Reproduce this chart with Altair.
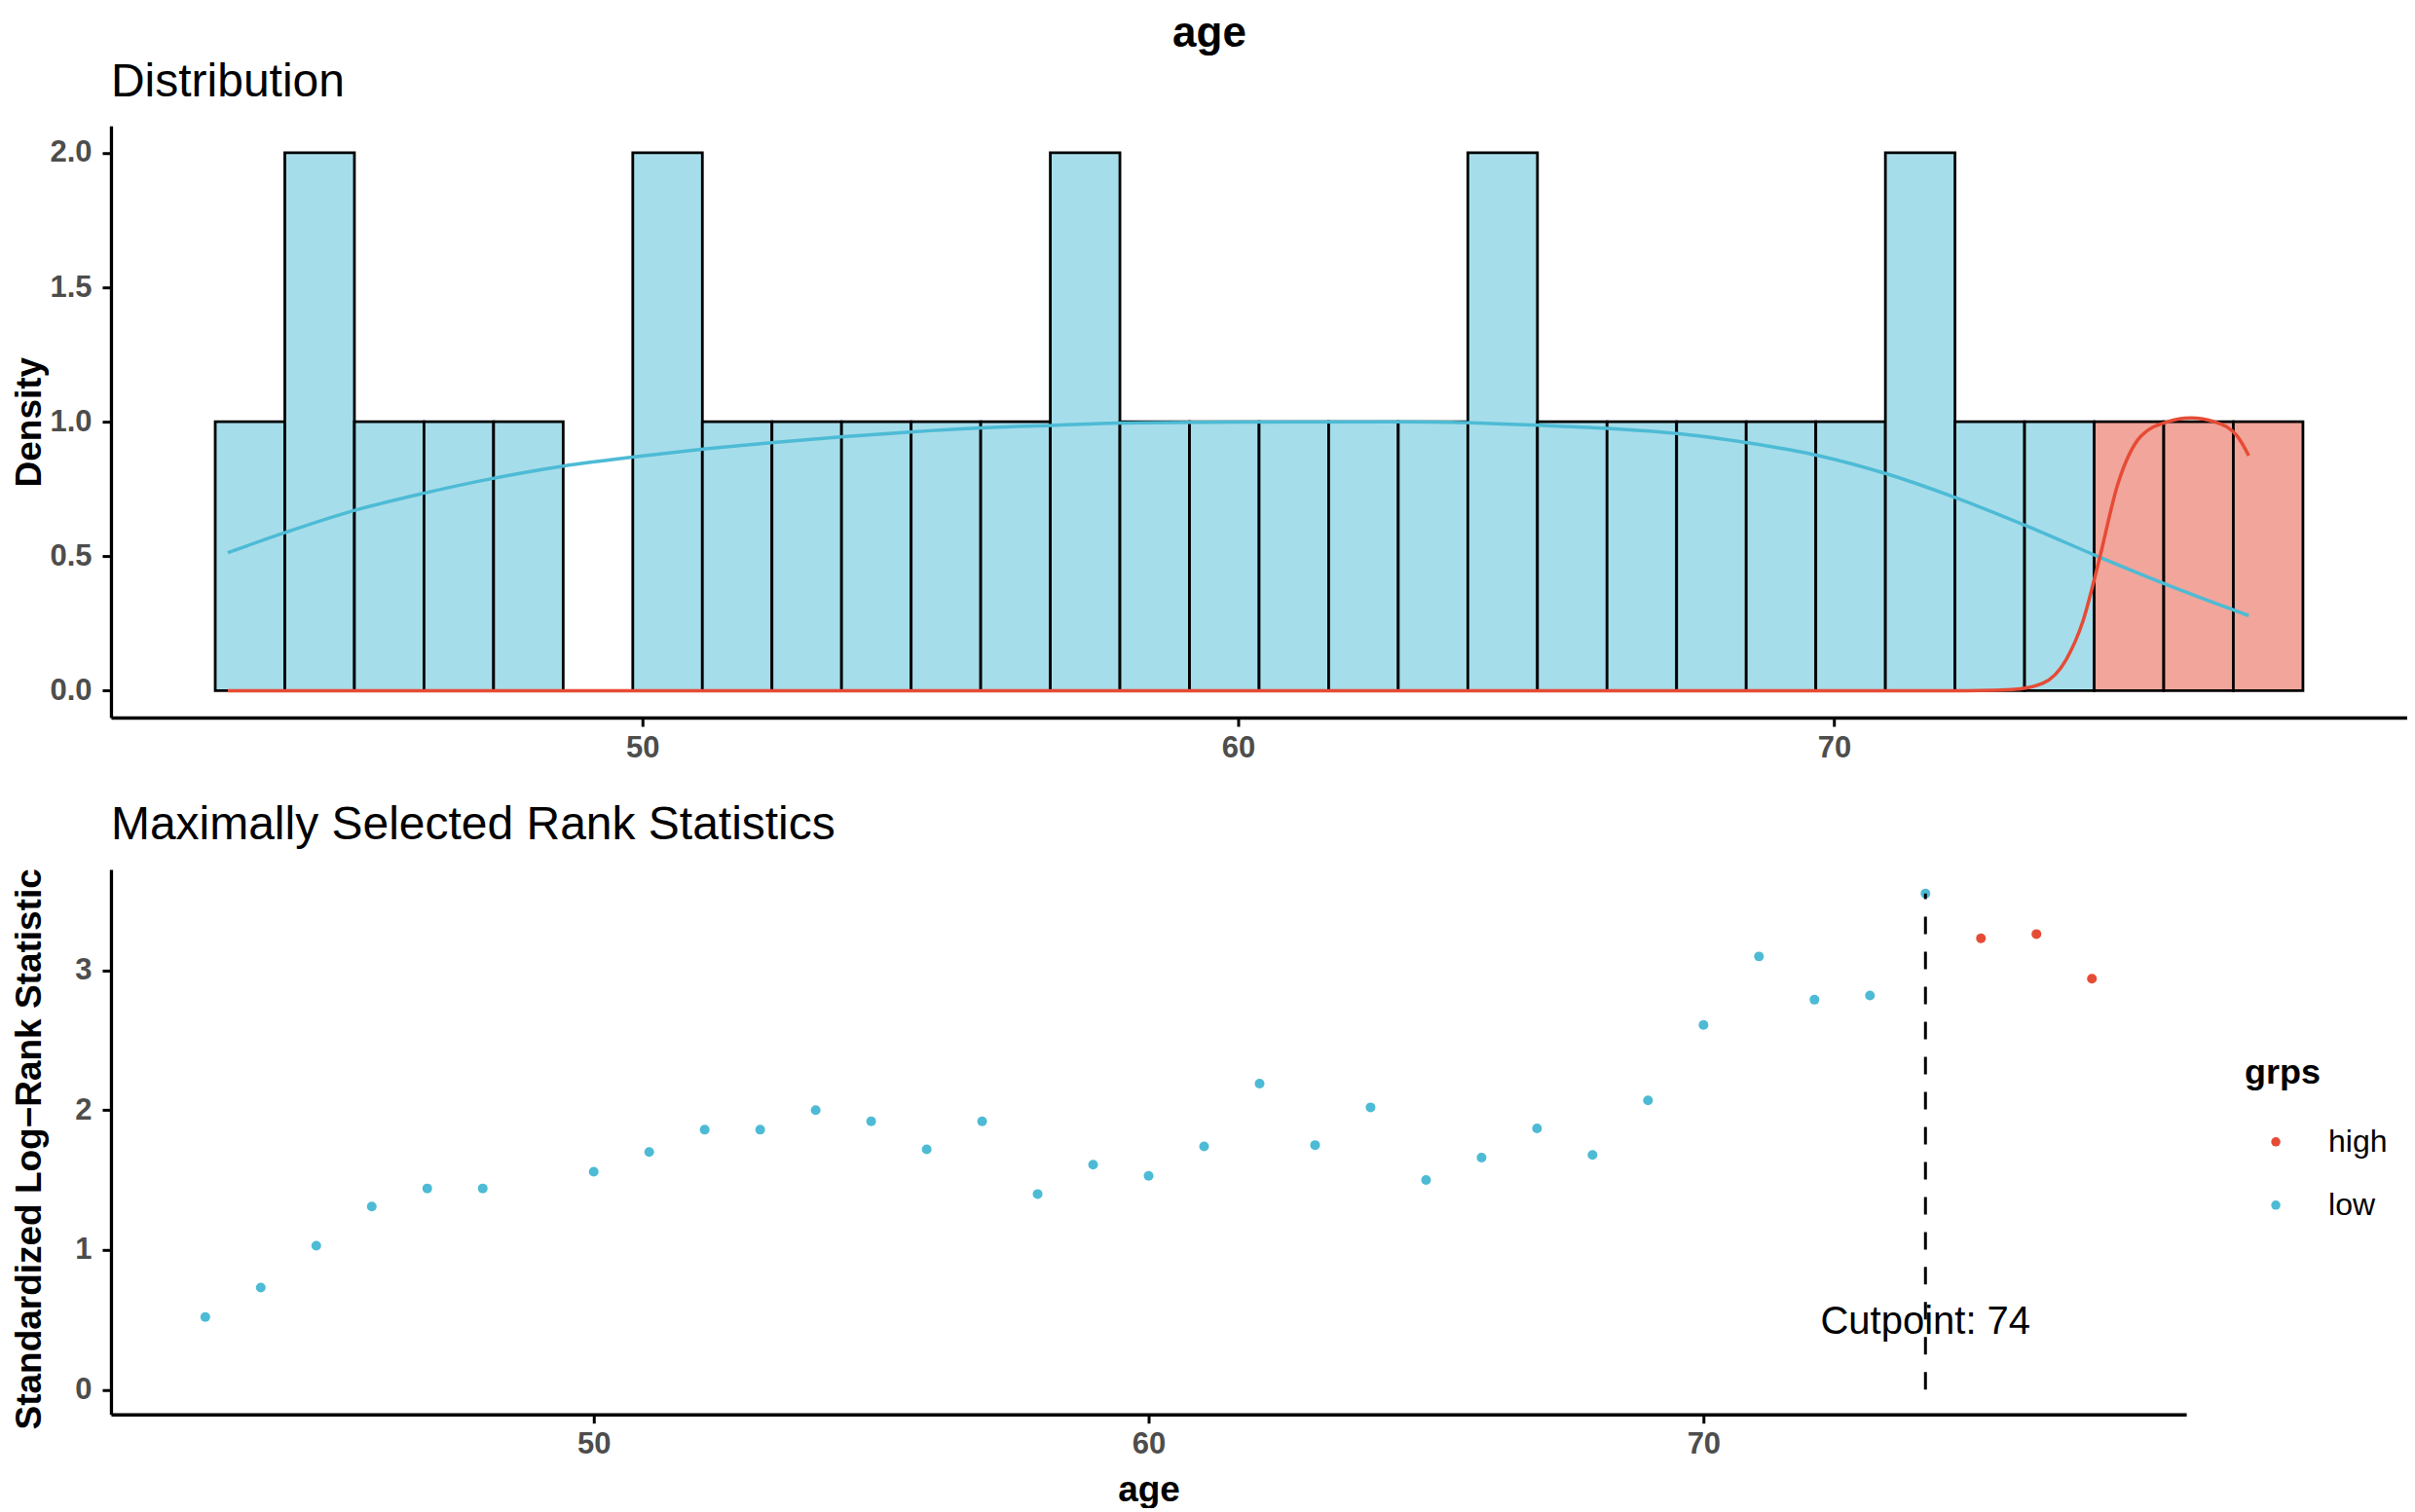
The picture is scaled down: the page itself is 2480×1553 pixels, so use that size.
import altair as alt
import pandas as pd

FONT = "Liberation Sans, Arial, Helvetica, sans-serif"
BLUE = "#4DBBD5"
RED = "#E64B35"
BLUE_FILL = "#A6DDEA"
RED_FILL = "#F2A59A"

# ---------------- histogram (top panel) ----------------
hist_start = 42.83
hist_binwidth = 1.168
hist_density = [1, 2, 1, 1, 1, 0, 2, 1, 1, 1, 1, 1, 2, 1, 1, 1, 1, 1, 2, 1,
                1, 1, 1, 1, 2, 1, 1, 1, 1, 1]
hist_group = ["low"] * 27 + ["high"] * 3

# density curves
dens_low_age = [43.04, 44.03, 45.13, 46.35, 47.51, 48.67, 49.9, 51.06, 52.2, 53.38,
                54.5, 55.7, 56.86, 58.0, 59.4, 62.7, 63.9, 65.06, 66.2, 67.4,
                68.55, 69.74, 70.9, 72.07, 73.23, 74.43, 75.6, 76.96]
dens_low_val = [0.513, 0.59, 0.668, 0.735, 0.79, 0.835, 0.870, 0.899, 0.923, 0.944,
                0.962, 0.977, 0.986, 0.995, 0.998, 1.0, 0.996, 0.987, 0.975, 0.955,
                0.922, 0.874, 0.805, 0.715, 0.613, 0.499, 0.393, 0.279]
dens_high_age = [43.04, 60.0, 72.2, 72.99, 73.5, 73.9, 74.18, 74.44, 74.76, 75.15,
                 75.6, 75.99, 76.38, 76.77, 76.96]
dens_high_val = [0.0, 0.0, 0.0, 0.004, 0.027, 0.117, 0.26, 0.477, 0.766, 0.946,
                 1.0, 1.014, 1.0, 0.946, 0.874]

# ---------------- maximally selected rank statistics (bottom) ----------------
cut_ages = [43, 44, 45, 46, 47, 48, 50, 51, 52, 53, 54, 55, 56, 57, 58, 59, 60,
            61, 62, 63, 64, 65, 66, 67, 68, 69, 70, 71, 72, 73, 74, 75, 76, 77]
log_rank_stat = [0.52, 0.73, 1.03, 1.31, 1.44, 1.44, 1.56, 1.70, 1.86, 1.86, 2.00,
                 1.92, 1.72, 1.92, 1.40, 1.61, 1.53, 1.74, 2.19, 1.75, 2.02, 1.50,
                 1.66, 1.87, 1.68, 2.07, 2.61, 3.10, 2.79, 2.82, 3.55, 3.23, 3.26,
                 2.94]
cutpoint = 74
cut_label_y = 0.40

# ---------------- tables ----------------
hist_df = pd.DataFrame({
    "start": [hist_start + i * hist_binwidth for i in range(len(hist_density))],
    "end": [hist_start + (i + 1) * hist_binwidth for i in range(len(hist_density))],
    "density": hist_density,
    "base": [0.0] * len(hist_density),
    "grp": hist_group,
})
hist_df = hist_df[hist_df["density"] > 0]

dens_df = pd.concat([
    pd.DataFrame({"start": dens_low_age, "density": dens_low_val, "grp": "low"}),
    pd.DataFrame({"start": dens_high_age, "density": dens_high_val, "grp": "high"}),
])

sc_df = pd.DataFrame({
    "age": cut_ages,
    "stat": log_rank_stat,
    "grps": ["high" if a > cutpoint else "low" for a in cut_ages],
})
cut_df = pd.DataFrame({
    "age": [cutpoint],
    "stat": [0.0],
    "stat_end": [max(log_rank_stat)],
    "label_y": [cut_label_y],
    "label": [f"Cutpoint: {cutpoint}"],
})

# ---------------- encodings ----------------
xs_top = alt.Scale(domain=[41.08, 79.62], nice=False, zero=False)
ys_top = alt.Scale(domain=[-0.1, 2.1], nice=False, zero=False)
x_top_axis = alt.Axis(values=[50, 60, 70], title=None)
y_top_axis = alt.Axis(values=[0, 0.5, 1, 1.5, 2], format=".1f", title="Density",
                      titleX=-72, titleY=304, titleBaseline="alphabetic", titleAngle=270)

bars = alt.Chart(hist_df).mark_bar(stroke="black", strokeWidth=2.8).encode(
    x=alt.X("start:Q", scale=xs_top, axis=x_top_axis),
    x2="end:Q",
    y=alt.Y("density:Q", scale=ys_top, axis=y_top_axis),
    y2="base:Q",
    fill=alt.Fill("grp:N", scale=alt.Scale(domain=["high", "low"], range=[RED_FILL, BLUE_FILL]),
                  legend=None),
)
lines = alt.Chart(dens_df).mark_line(strokeWidth=3.5, interpolate="monotone").encode(
    x=alt.X("start:Q", scale=xs_top, axis=x_top_axis),
    y=alt.Y("density:Q", scale=ys_top, axis=y_top_axis),
    color=alt.Color("grp:N", scale=alt.Scale(domain=["high", "low"], range=[RED, BLUE]),
                    legend=None),
)
top = alt.layer(bars, lines).properties(
    width=2359, height=608,
    title=alt.TitleParams("Distribution", anchor="start", frame="group", fontSize=48,
                          fontWeight="normal", font=FONT, color="black",
                          baseline="alphabetic", offset=-18),
)

xs_bot = alt.Scale(domain=[41.3, 78.7], nice=False, zero=False)
ys_bot = alt.Scale(domain=[-0.177, 3.723], nice=False, zero=False)
x_bot_axis = alt.Axis(values=[50, 60, 70], title="age", titleY=89, titleBaseline="alphabetic")
y_bot_axis = alt.Axis(values=[0, 1, 2, 3], title="Standardized Log\u2212Rank Statistic",
                      titleX=-72, titleY=287, titleBaseline="alphabetic", titleAngle=270)

points = alt.Chart(sc_df).mark_circle(size=100, opacity=1).encode(
    x=alt.X("age:Q", scale=xs_bot, axis=x_bot_axis),
    y=alt.Y("stat:Q", scale=ys_bot, axis=y_bot_axis),
    color=alt.Color("grps:N", scale=alt.Scale(domain=["high", "low"], range=[RED, BLUE]),
                    legend=alt.Legend(title="grps", orient="none", legendX=2192, legendY=192,
                                      titleFontSize=36, titleFontWeight="bold", titleFont=FONT,
                                      titleColor="black", labelFontSize=32, labelFont=FONT,
                                      labelColor="black", symbolType="circle", symbolSize=90,
                                      symbolOffset=16, labelOffset=38, titlePadding=36,
                                      rowPadding=33, padding=0, symbolStrokeWidth=0)),
)
rule = alt.Chart(cut_df).mark_rule(strokeDash=[18, 18], strokeWidth=3, color="black").encode(
    x=alt.X("age:Q", scale=xs_bot, axis=x_bot_axis),
    y=alt.Y("stat:Q", scale=ys_bot, axis=y_bot_axis),
    y2="stat_end:Q",
)
label = alt.Chart(cut_df).mark_text(fontSize=40, font=FONT, baseline="alphabetic",
                                    align="center", color="black").encode(
    x=alt.X("age:Q", scale=xs_bot, axis=x_bot_axis),
    y=alt.Y("label_y:Q", scale=ys_bot, axis=y_bot_axis),
    text="label:N",
)
bottom = alt.layer(points, rule, label).properties(
    width=2132, height=560,
    title=alt.TitleParams("Maximally Selected Rank Statistics", anchor="start", frame="group",
                          fontSize=48, fontWeight="normal", font=FONT, color="black",
                          baseline="alphabetic", offset=-18),
)

chart = alt.vconcat(top, bottom, spacing=40).resolve_scale(
    color="independent", fill="independent", x="independent", y="independent"
).properties(
    padding={"top": 5, "left": 3, "right": 0, "bottom": 0},
    title=alt.TitleParams("age", anchor="middle", fontSize=44, fontWeight="bold", font=FONT,
                          color="black", baseline="alphabetic", offset=-31),
).configure_view(stroke=None).configure_axis(
    domainColor="black", domainWidth=3.3, tickColor="black", tickWidth=3, tickSize=9,
    labelFontSize=31, labelFont=FONT, labelColor="#4D4D4D", labelFontWeight="bold",
    titleFont=FONT, titleFontSize=37, titleFontWeight="bold", titleColor="black", grid=False,
).configure_axisX(labelPadding=7).configure_axisY(labelPadding=11)

chart.save("out.html", embed_options={"renderer": "svg", "actions": False})
